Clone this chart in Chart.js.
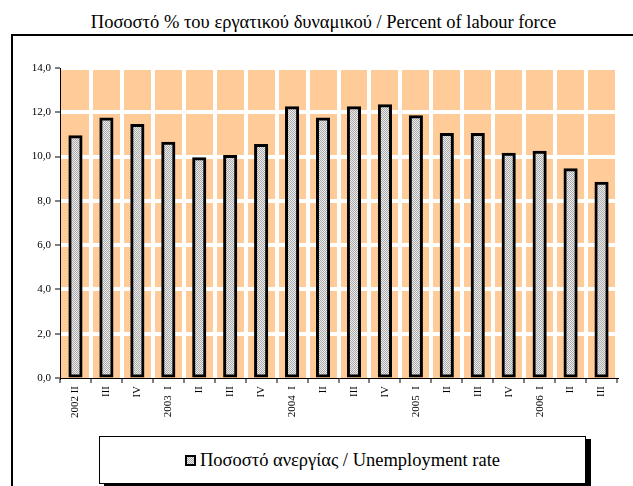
<!DOCTYPE html>
<html>
<head>
<meta charset="utf-8">
<script src="https://cdn.jsdelivr.net/npm/chart.js@4"></script>
<style>
  html, body { margin: 0; padding: 0; background: #fff; }
  body {
    width: 633px; height: 486px; position: relative; overflow: hidden;
    font-family: "Liberation Serif", "DejaVu Serif", serif; color: #000;
  }
  .chart-title {
    position: absolute; left: 7px; top: 11px; width: 633px;
    text-align: center; font-size: 18.5px; line-height: 22px; white-space: nowrap;
  }
  .frame {
    position: absolute; left: 11px; top: 34px; width: 660px; height: 500px;
    border-left: 2px solid #000; border-top: 2px solid #000;
  }
  #chart { position: absolute; left: 0; top: 0; }
  .legend-box {
    position: absolute; left: 99px; top: 436px; width: 485px; height: 46px;
    border: 1px solid #000; box-shadow: 5px 3px 0 #000; background: #fff;
    display: flex; align-items: center; justify-content: center;
    font-size: 18.5px; white-space: nowrap;
  }
  .swatch {
    width: 7px; height: 7px; margin-right: 4px; border: 2px solid #000;
    background: repeating-conic-gradient(#aaa 0 25%, #ececec 0 50%) 0 0 / 2px 2px;
  }
</style>
</head>
<body>
<div class="chart-title">Ποσοστό % του εργατικού δυναμικού / Percent of labour force</div>
<div class="frame"></div>
<canvas id="chart" width="633" height="430"></canvas>
<div class="legend-box"><span class="swatch"></span><span id="legend-text"></span></div>

<script>
const QUARTERS = [
  '2002 II', 'III', 'IV',
  '2003  I', 'II', 'III', 'IV',
  '2004  I', 'II', 'III', 'IV',
  '2005  I', 'II', 'III', 'IV',
  '2006  I', 'II', 'III',
];
const UNEMPLOYMENT = [
  10.9, 11.7, 11.4,
  10.6, 9.9, 10.0, 10.5,
  12.2, 11.7, 12.2, 12.3,
  11.8, 11.0, 11.0, 10.1,
  10.2, 9.4, 8.8,
];
const SERIES_LABEL = 'Ποσοστό ανεργίας / Unemployment rate';
const Y_MIN  = 0;
const Y_MAX  = 14;
const Y_STEP = 2;

const PLOT_BG   = '#ffcc99';
const GRID      = '#ffffff';
const AXIS      = '#000000';
const TICK_FONT = { family: '"Liberation Serif", "DejaVu Serif", serif', size: 11 };

// small grey dither used for the bar fill
function makePattern() {
  const c = document.createElement('canvas');
  c.width = 2; c.height = 2;
  const g = c.getContext('2d');
  g.fillStyle = '#ececec'; g.fillRect(0, 0, 2, 2);
  g.fillStyle = '#aaaaaa'; g.fillRect(0, 0, 1, 1); g.fillRect(1, 1, 1, 1);
  return g.createPattern(c, 'repeat');
}

const plotBackground = {
  id: 'plotBackground',
  beforeDraw(chart) {
    const { ctx, chartArea: a } = chart;
    ctx.save();
    ctx.fillStyle = PLOT_BG;
    ctx.fillRect(a.left, a.top, a.right - a.left, a.bottom - a.top);
    ctx.restore();
  },
};

const ctx = document.getElementById('chart').getContext('2d');
const chart = new Chart(ctx, {
  type: 'bar',
  data: {
    labels: QUARTERS,
    datasets: [{
      label: SERIES_LABEL,
      data: UNEMPLOYMENT,
      backgroundColor: makePattern(),
      borderColor: AXIS,
      borderWidth: 3,
      borderSkipped: false,
      // outline straddles the bar edge, like the original
      inflateAmount: 1.5,
      barPercentage: 0.36,
      categoryPercentage: 1,
    }],
  },
  options: {
    responsive: false,
    animation: false,
    devicePixelRatio: 1,
    layout: { padding: { left: 0, right: 16, top: 68, bottom: 0 } },
    plugins: {
      legend: { display: false },
      tooltip: { enabled: false },
    },
    scales: {
      x: {
        afterFit: (s) => { s.height = 52; },
        ticks: {
          color: AXIS, font: TICK_FONT, padding: 3,
          minRotation: 90, maxRotation: 90, autoSkip: false,
        },
        grid: {
          offset: true,
          color: (c) => (c.index === 0 ? 'transparent' : GRID),
          lineWidth: 4,
          tickColor: AXIS, tickWidth: 1, tickLength: 5,
        },
        border: { color: AXIS, width: 1 },
      },
      y: {
        min: Y_MIN, max: Y_MAX,
        afterFit: (s) => { s.width = 60; },
        ticks: {
          stepSize: Y_STEP, color: AXIS, font: TICK_FONT, padding: 4,
          callback: (v) => v.toFixed(1).replace('.', ','),
        },
        grid: {
          color: (c) => (c.index === 0 ? 'transparent' : GRID),
          lineWidth: 4,
          tickColor: AXIS, tickWidth: 1, tickLength: 5,
        },
        border: { color: AXIS, width: 1 },
      },
    },
  },
  plugins: [plotBackground],
});

document.getElementById('legend-text').textContent = chart.data.datasets[0].label;
</script>
</body>
</html>
